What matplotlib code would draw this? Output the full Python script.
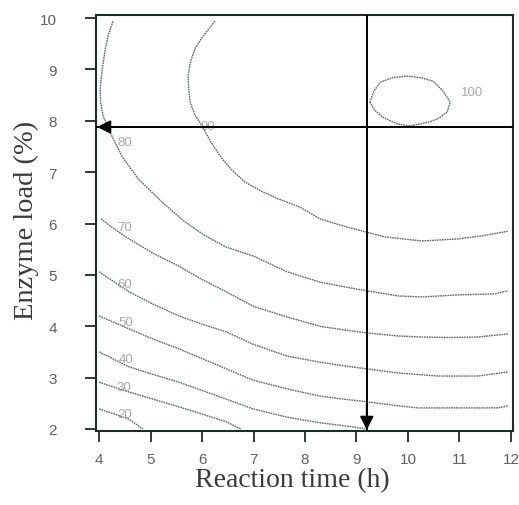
import matplotlib
matplotlib.use("Agg")
import matplotlib.pyplot as plt

# ---- data (Reaction time h, Enzyme load %) ----
levels = [20, 30, 40, 50, 60, 70, 80, 90, 100]

c20_x = [4.00, 4.30, 4.58, 4.85]
c20_y = [2.39, 2.29, 2.19, 2.00]

c30_x = [4.00, 4.30, 4.58, 5.05, 5.55, 6.00, 6.47, 6.75]
c30_y = [2.91, 2.81, 2.72, 2.58, 2.43, 2.29, 2.14, 2.00]

c40_x = [4.00, 4.30, 4.58, 5.05, 5.55, 6.00, 6.47, 6.99, 7.65, 8.29, 8.70, 9.07, 9.17]
c40_y = [3.50, 3.35, 3.21, 3.06, 2.91, 2.75, 2.58, 2.39, 2.23, 2.12, 2.07, 2.02, 2.00]

c50_x = [4.00, 4.30, 4.58, 5.05, 5.55, 6.00, 6.47, 6.99, 7.65, 8.29, 8.75, 9.20, 9.81,
         10.19, 11.00, 11.75, 11.94]
c50_y = [4.20, 4.07, 3.95, 3.75, 3.56, 3.37, 3.17, 2.95, 2.78, 2.64, 2.58, 2.53, 2.45,
         2.41, 2.41, 2.41, 2.45]

c60_x = [4.00, 4.30, 4.58, 5.05, 5.55, 6.00, 6.47, 6.99, 7.65, 8.29, 8.75, 9.20, 9.81,
         10.58, 11.36, 11.94]
c60_y = [5.06, 4.86, 4.67, 4.43, 4.20, 4.04, 3.89, 3.65, 3.42, 3.30, 3.23, 3.17, 3.09,
         3.03, 3.03, 3.11]

c70_x = [4.04, 4.30, 4.58, 5.05, 5.55, 6.00, 6.47, 6.99, 7.65, 8.29, 8.75, 9.20, 9.81,
         10.27, 10.80, 11.36, 11.94]
c70_y = [6.09, 5.89, 5.70, 5.42, 5.17, 4.91, 4.67, 4.39, 4.18, 4.00, 3.93, 3.87, 3.81,
         3.79, 3.78, 3.79, 3.85]

c80_x = [4.27, 4.18, 4.12, 4.06, 4.02, 4.03, 4.08, 4.21, 4.45, 4.76, 5.22, 5.67, 6.05,
         6.47, 6.99, 7.65, 8.29, 8.75, 9.20, 9.81, 10.27, 10.97, 11.69, 11.94]
c80_y = [9.94, 9.67, 9.40, 9.00, 8.62, 8.35, 8.09, 7.78, 7.30, 6.87, 6.42, 6.03, 5.77,
         5.54, 5.37, 5.06, 4.86, 4.77, 4.69, 4.59, 4.57, 4.61, 4.63, 4.69]

c90_x = [6.25, 6.02, 5.86, 5.77, 5.73, 5.74, 5.77, 5.86, 6.00, 6.18, 6.39, 6.60, 6.83,
         7.15, 7.48, 7.90, 8.29, 8.75, 9.20, 9.55, 10.27, 10.97, 11.44, 11.94]
c90_y = [9.94, 9.65, 9.40, 9.13, 8.87, 8.62, 8.36, 8.12, 7.90, 7.57, 7.26, 7.02, 6.81,
         6.63, 6.48, 6.32, 6.09, 5.95, 5.83, 5.74, 5.66, 5.70, 5.76, 5.85]

c100_x = [9.26, 9.34, 9.46, 9.70, 9.98, 10.25, 10.49, 10.68, 10.82, 10.76, 10.60, 10.43,
          10.04, 9.79, 9.51, 9.36, 9.26]
c100_y = [8.36, 8.58, 8.75, 8.84, 8.87, 8.84, 8.77, 8.58, 8.36, 8.17, 8.05, 7.98,
          7.90, 7.94, 8.07, 8.20, 8.36]

label_text = ["20", "30", "40", "50", "60", "70", "80", "90", "100"]
label_x = [4.49, 4.49, 4.52, 4.52, 4.49, 4.49, 4.49, 6.12, 11.24]
label_y = [2.29, 2.82, 3.36, 4.08, 4.82, 5.93, 7.59, 7.90, 8.56]

# optimum
opt_time = 9.2
opt_load = 7.88

xticks = [4, 5, 6, 7, 8, 9, 10, 11, 12]
yticks = [2, 3, 4, 5, 6, 7, 8, 9, 10]

# ---- figure ----
W, H = 519, 506
fig = plt.figure(figsize=(W / 100, H / 100), dpi=100)
ax = fig.add_axes([96 / W, 1 - 432 / H, (513 - 96) / W, (432 - 16) / H])

frame_col = "#1d2b2b"
line_col = "#5a6868"

curves = [(c20_x, c20_y), (c30_x, c30_y), (c40_x, c40_y), (c50_x, c50_y),
          (c60_x, c60_y), (c70_x, c70_y), (c80_x, c80_y), (c90_x, c90_y),
          (c100_x, c100_y)]
for cx, cy in curves:
    ax.plot(cx, cy, color=line_col, lw=1.0, ls=(0, (1.2, 0.6)), zorder=2)

for t, lx, ly in zip(label_text, label_x, label_y):
    ax.text(lx, ly, t, color="#a8a8a8", fontsize=9.5, family="Liberation Sans",
            ha="center", va="center", zorder=3)

# optimum cross-hair lines
ax.axvline(opt_time, color="black", lw=1.4, zorder=4)
ax.axhline(opt_load, color="black", lw=1.4, zorder=4)
ax.annotate("", xy=(3.96, opt_load), xytext=(4.45, opt_load),
            arrowprops=dict(arrowstyle="-|>", color="black", lw=1.4,
                            mutation_scale=20, shrinkA=0, shrinkB=0), zorder=5)
ax.annotate("", xy=(opt_time, 1.98), xytext=(opt_time, 2.5),
            arrowprops=dict(arrowstyle="-|>", color="black", lw=1.4,
                            mutation_scale=20, shrinkA=0, shrinkB=0), zorder=5)

ax.set_xlim(3.94, 12.04)
ax.set_ylim(1.96, 10.06)
ax.set_xticks(xticks)
ax.set_yticks(yticks)
ax.set_xticklabels([str(v) for v in xticks])
ax.set_yticklabels([str(v) for v in yticks])

for s in ax.spines.values():
    s.set_color(frame_col)
    s.set_linewidth(1.5)

ax.tick_params(direction="out", length=8, width=1.3, color=frame_col,
               labelsize=11, labelcolor="#606060")
ax.tick_params(axis="x", pad=7)
ax.tick_params(axis="y", pad=20)
for lab in ax.get_xticklabels() + ax.get_yticklabels():
    lab.set_family("Liberation Sans")

ax.set_xlabel("Reaction time (h)", family="Liberation Serif", fontsize=20,
              color="#3a3a3a", va="center")
ax.set_ylabel("Enzyme load (%)", family="Liberation Serif", fontsize=20.5,
              color="#3a3a3a", va="center")
ax.xaxis.set_label_coords((292 - 96) / 417, -(481 - 432) / 416)
ax.yaxis.set_label_coords((26 - 96) / 417, (432 - 220) / 416)

fig.savefig("out.png", dpi=100, facecolor="white")
